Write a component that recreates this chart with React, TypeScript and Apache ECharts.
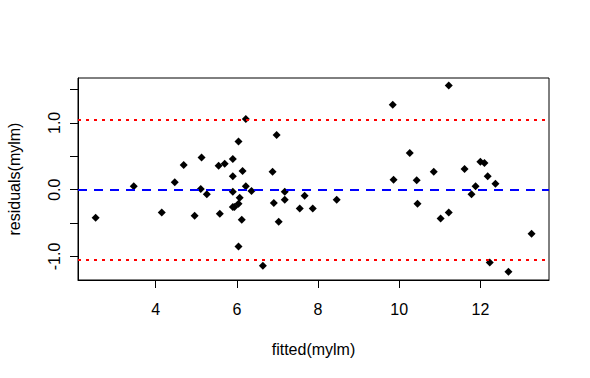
import React, { useEffect, useRef } from "react";
import * as echarts from "echarts";

const fittedValues: number[] = [
  2.52, 3.46, 4.15, 4.47, 4.69, 4.96, 5.13, 5.11, 5.26, 5.55, 5.58, 5.7, 5.9, 5.9,
  5.9, 5.9, 5.94, 6.04, 6.04, 6.07, 6.14, 6.12, 6.22, 6.22, 6.36, 6.04, 6.64, 6.88,
  6.98, 6.91, 7.03, 7.18, 7.18, 7.55, 7.67, 7.87, 8.46, 9.84, 9.86, 10.26, 10.43,
  10.45, 10.85, 11.02, 11.22, 11.22, 11.61, 11.78, 11.88, 12.0, 12.1, 12.18, 12.37,
  12.23, 12.69, 13.26,
];
const residualValues: number[] = [
  -0.42, 0.05, -0.34, 0.11, 0.37, -0.39, 0.48, 0.01, -0.07, 0.36, -0.36, 0.39, 0.46,
  0.2, -0.03, -0.26, -0.26, 0.72, -0.21, -0.12, 0.28, -0.45, 1.06, 0.05, -0.02, -0.85,
  -1.14, 0.27, 0.82, -0.2, -0.48, -0.03, -0.15, -0.28, -0.09, -0.28, -0.15, 1.27, 0.15,
  0.55, 0.14, -0.21, 0.27, -0.43, 1.56, -0.34, 0.31, -0.07, 0.05, 0.42, 0.4, 0.2, 0.09,
  -1.09, -1.23, -0.66,
];
const xTicks: number[] = [4, 6, 8, 10, 12];
const yTicks: number[] = [-1, -0.5, 0, 0.5, 1, 1.5];
const yLabels: number[] = [-1, 0, 1];
const zeroLine = 0;
const bandLines: number[] = [1.05, -1.05];

export default function App() {
  const ref = useRef<HTMLDivElement>(null);
  useEffect(() => {
    if (!ref.current) return;
    const chart = echarts.init(ref.current, undefined, { renderer: "svg" });
    const font = "'Liberation Sans', Arial, sans-serif";
    const data = fittedValues.map((x, i) => [x, residualValues[i]]);
    chart.setOption({
      animation: false,
      backgroundColor: "#ffffff",
      textStyle: { fontFamily: font },
      grid: {
        left: 78,
        top: 78,
        width: 471,
        height: 202,
        containLabel: false,
        outerBoundsMode: "none",
        show: true,
        borderColor: "#000",
        borderWidth: 1,
        backgroundColor: "transparent",
      },
      xAxis: {
        type: "value",
        min: 2.086,
        max: 13.69,
        name: "fitted(mylm)",
        nameLocation: "middle",
        nameGap: 61,
        nameTextStyle: { fontSize: 16, color: "#000", fontFamily: font, verticalAlign: "top" },
        axisLine: { show: true, onZero: false, lineStyle: { color: "#000", width: 1 } },
        axisTick: { show: true, length: 8, customValues: xTicks, lineStyle: { color: "#000" } },
        axisLabel: {
          customValues: xTicks,
          fontSize: 16,
          color: "#000",
          fontFamily: font,
          margin: 21,
        },
        splitLine: { show: false },
      },
      yAxis: {
        type: "value",
        min: -1.352,
        max: 1.672,
        name: "residuals(mylm)",
        nameLocation: "middle",
        nameGap: 56,
        nameRotate: 90,
        nameTextStyle: { fontSize: 16, color: "#000", fontFamily: font },
        axisLine: { show: true, onZero: false, lineStyle: { color: "#000", width: 1 } },
        axisTick: { show: true, length: 8, customValues: yTicks, lineStyle: { color: "#000" } },
        axisLabel: {
          customValues: yLabels,
          rotate: 90,
          fontSize: 16,
          color: "#000",
          fontFamily: font,
          margin: 16,
          formatter: (v: number) => v.toFixed(1),
        },
        splitLine: { show: false },
      },
      series: [
        {
          type: "scatter",
          data,
          symbol: "diamond",
          symbolSize: 8,
          itemStyle: { color: "#000", opacity: 1 },
          markLine: {
            silent: true,
            symbol: "none",
            label: { show: false },
            data: [
              { yAxis: zeroLine, lineStyle: { color: "#0000ff", width: 2, type: [9, 7], opacity: 1 } },
              ...bandLines.map((v) => ({
                yAxis: v,
                lineStyle: { color: "#ff0000", width: 2, type: [3, 5], opacity: 1 },
              })),
            ],
          },
        },
      ],
    });
    return () => chart.dispose();
  }, []);
  return (
    <div
      ref={ref}
      style={{ position: "fixed", left: 0, top: 0, width: 590, height: 378 }}
    />
  );
}
